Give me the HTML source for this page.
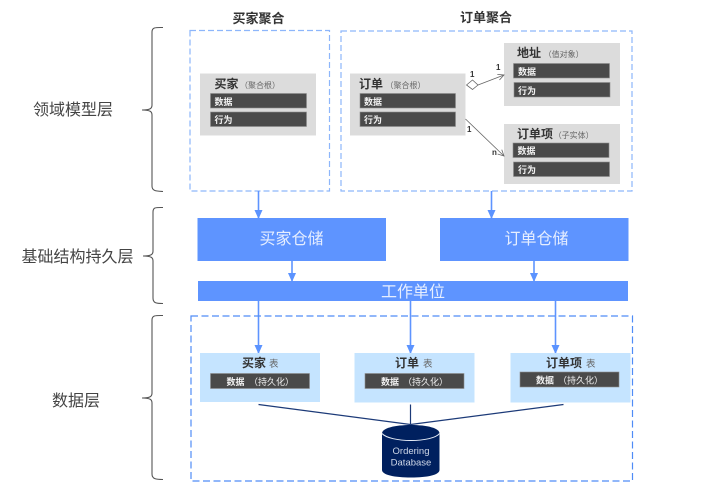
<!DOCTYPE html>
<html><head><meta charset="utf-8">
<style>
html,body{margin:0;padding:0;background:#fff;width:710px;height:494px;overflow:hidden}
svg{display:block}
text{font-family:"Liberation Sans","Noto Sans CJK SC",sans-serif}
.b{font-weight:700;fill:#333}
.w{fill:#f2f2f2;font-size:9px;font-weight:700}
.p{fill:#f0f0f0;font-size:9px}
.s{fill:#666;font-size:8px}
.t{fill:#666;font-size:9.5px}
.l{fill:#444;font-size:16px}
.r{fill:#e6eeff;font-size:16px}
</style></head><body>
<svg width="710" height="494" viewBox="0 0 710 494" xmlns="http://www.w3.org/2000/svg">
<defs>
<marker id="a" markerWidth="9" markerHeight="9" refX="8" refY="4" orient="auto" markerUnits="userSpaceOnUse"><path d="M0 0L9 4L0 8Z" fill="#5b93ff"/></marker>
<marker id="o" markerWidth="8" markerHeight="8" refX="7" refY="3.5" orient="auto" markerUnits="userSpaceOnUse"><path d="M1 .5L7 3.5L1 6.5" fill="none" stroke="#666" stroke-width=".8"/></marker>
</defs>
<!-- braces -->
<g fill="none" stroke="#555" stroke-width="1.1">
<path d="M163 27.5C156 27.5 152 27 152 32V105C152 108 151 110 142 110C151 110 152 112 152 115V186C152 191 156 191 163 191.500"/>
<path d="M163 207.500C156 207.500 153 207 153 212V251C153 254 152 256 143 256C152 256 153 258 153 261V298C153 303 156 303.500 163 303.500"/>
<path d="M163 315.500C156 315.500 152 315 152 320V393C152 396 151 398 142 398C151 398 152 400 152 403V474C152 479 156 479.500 163 479.500"/>
</g>
<text class="l" x="33" y="115">领域模型层</text>
<text class="l" x="21.500" y="262">基础结构持久层</text>
<text class="l" x="52" y="406">数据层</text>
<!-- aggregates -->
<text class="b" x="232.500" y="23" font-size="13">买家聚合</text>
<text class="b" x="460" y="22" font-size="13">订单聚合</text>
<g fill="none" stroke="#8db6fb" stroke-width="1.200" stroke-dasharray="6 3">
<rect x="190" y="30.500" width="139.500" height="160.500"/>
<rect x="341" y="31" width="291" height="160"/>
</g>
<!-- grey boxes -->
<g fill="#dcdcdc">
<rect x="200" y="73.500" width="116" height="62"/>
<rect x="350" y="73.500" width="115.500" height="62"/>
<rect x="504" y="43" width="116" height="63"/>
<rect x="504" y="124" width="116" height="60"/>
</g>
<g fill="#4a4a4a" stroke="#8c8c8c" stroke-width=".6">
<rect x="210.500" y="93.500" width="96" height="14.500"/>
<rect x="210.500" y="112" width="96" height="14.500"/>
<rect x="360" y="93.500" width="95.500" height="14.500"/>
<rect x="360" y="112" width="95.500" height="14.500"/>
<rect x="513.500" y="63.500" width="96" height="14.500"/>
<rect x="514" y="82.500" width="96" height="14.500"/>
<rect x="513" y="143" width="96" height="14.500"/>
<rect x="513.500" y="162" width="96" height="14.500"/>
</g>
<text class="b" x="214.500" y="88" font-size="12">买家</text>
<text class="s" x="240" y="88">（聚合根）</text>
<text class="w" x="214.500" y="105">数据</text>
<text class="w" x="214.500" y="123">行为</text>
<text class="b" x="359" y="88" font-size="12">订单</text>
<text class="s" x="385.500" y="88">（聚合根）</text>
<text class="w" x="364" y="105">数据</text>
<text class="w" x="364" y="123">行为</text>
<text class="b" x="517" y="57" font-size="12">地址</text>
<text class="s" x="543.700" y="57">（值对象）</text>
<text class="w" x="518" y="75">数据</text>
<text class="w" x="518" y="94">行为</text>
<text class="b" x="517" y="138" font-size="12">订单项</text>
<text class="s" x="553.700" y="138">（子实体）</text>
<text class="w" x="517.500" y="154">数据</text>
<text class="w" x="518" y="173">行为</text>
<!-- relations -->
<path d="M466.500 85L472.500 80L478 85L472.500 89.500Z" fill="#fff" stroke="#666" stroke-width=".8"/>
<path d="M478 85L504 75" fill="none" stroke="#666" stroke-width=".8" marker-end="url(#o)"/>
<path d="M465.500 119L504 156" fill="none" stroke="#666" stroke-width=".8" marker-end="url(#o)"/>
<g fill="#333" font-size="8" font-weight="700">
<text x="470" y="77">1</text><text x="496" y="70">1</text>
<text x="467" y="132">1</text><text x="492" y="155">n</text>
</g>
<!-- repos -->
<g fill="#5e94ff">
<rect x="197.500" y="218" width="188.500" height="43"/>
<rect x="440" y="218" width="188.500" height="43"/>
<rect x="198" y="281" width="430" height="20"/>
</g>
<text class="r" x="259.500" y="244">买家仓储</text>
<text class="r" x="504.500" y="244">订单仓储</text>
<text class="r" x="381" y="297">工作单位</text>
<!-- arrows -->
<g stroke="#5e94ff" stroke-width="1.600" fill="none">
<path d="M258.500 191V218" marker-end="url(#a)"/>
<path d="M491.500 191V218" marker-end="url(#a)"/>
<path d="M292 261V281" marker-end="url(#a)"/>
<path d="M534 261V281" marker-end="url(#a)"/>
<path d="M258.500 301V353" marker-end="url(#a)"/>
<path d="M410.500 301V353" marker-end="url(#a)"/>
<path d="M555.500 301V353" marker-end="url(#a)"/>
</g>
<!-- data layer -->
<rect x="191" y="316" width="441.500" height="165" fill="none" stroke="#4f8cf7" stroke-width="1.200" stroke-dasharray="7 3.500"/>
<g fill="#c5e4ff">
<rect x="200" y="353" width="120" height="49"/>
<rect x="354.500" y="353" width="120" height="49.500"/>
<rect x="510.500" y="353" width="120" height="49.500"/>
</g>
<g fill="#4a4a4a" stroke="#8c8c8c" stroke-width=".6">
<rect x="210.500" y="373.500" width="99" height="15"/>
<rect x="365" y="373.500" width="99" height="15"/>
<rect x="520" y="372" width="99" height="15"/>
</g>
<text class="b" x="242" y="367" font-size="12">买家</text><text class="t" x="269" y="367">表</text>
<text class="b" x="395" y="367" font-size="12">订单</text><text class="t" x="423" y="367">表</text>
<text class="b" x="546" y="367" font-size="12">订单项</text><text class="t" x="586" y="367">表</text>
<text class="w" x="226.500" y="385">数据</text><text class="p" x="249" y="385">（持久化）</text>
<text class="w" x="381" y="385">数据</text><text class="p" x="403" y="385">（持久化）</text>
<text class="w" x="536" y="383.500">数据</text><text class="p" x="558" y="383.500">（持久化）</text>
<g stroke="#1c3a78" stroke-width="1.200" fill="none">
<path d="M258.500 404.500L410.500 424.500"/>
<path d="M410.500 404.500V424.500"/>
<path d="M563.500 404.500L410.500 424.500"/>
</g>
<!-- cylinder -->
<path d="M382 433.500C382 428 395 425 411 425C427 425 439.500 428 439.500 433.500V470C439.500 475 427 477.500 411 477.500C395 477.500 382 475 382 470Z" fill="#00205f"/>
<path d="M382 433.500C386 438 398 440.500 411 440.500C424 440.500 436 438 439.500 433.500" fill="none" stroke="#e8eef8" stroke-width="1"/>
<text x="411" y="454" text-anchor="middle" fill="#cfd8e8" font-size="9.500">Ordering</text>
<text x="411" y="465.500" text-anchor="middle" fill="#cfd8e8" font-size="9.500">Database</text>
</svg>
</body></html>
